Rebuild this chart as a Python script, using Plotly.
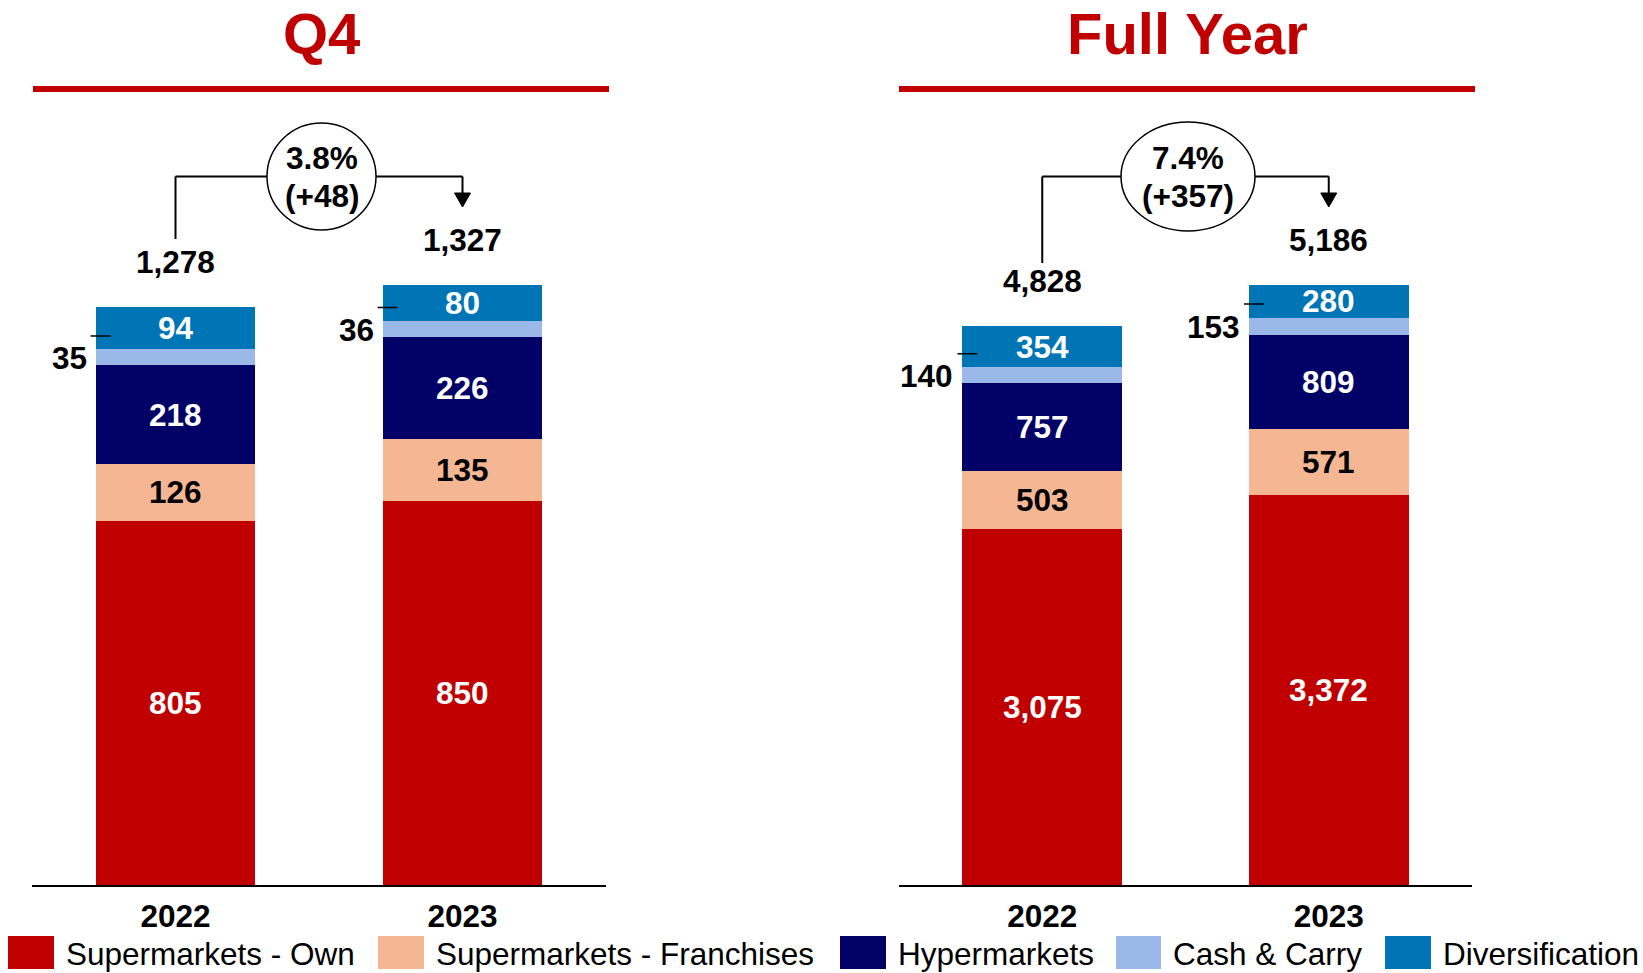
import plotly.graph_objects as go

W, H = 1643, 973

# ---------------- data ----------------
categories = ["2022", "2023"]
series_names = ["Supermarkets - Own", "Supermarkets - Franchises", "Hypermarkets",
                "Cash & Carry", "Diversification"]
series_colors = ["#C00000", "#F5B793", "#000066", "#9AB8E8", "#0075B6"]
label_colors = ["white", "black", "white", None, "white"]

q4_own = [805, 850]
q4_fran = [126, 135]
q4_hyper = [218, 226]
q4_cc = [35, 36]
q4_div = [94, 80]
q4_total = [1278, 1327]
q4_growth = ["3.8%", "(+48)"]

fy_own = [3075, 3372]
fy_fran = [503, 571]
fy_hyper = [757, 809]
fy_cc = [140, 153]
fy_div = [354, 280]
fy_total = [4828, 5186]
fy_growth = ["7.4%", "(+357)"]

panels = [
    dict(title="Q4", series=[q4_own, q4_fran, q4_hyper, q4_cc, q4_div], total=q4_total,
         growth=q4_growth, xa="x", ya="y", xdom=(32, 606), ymax=1735.6,
         circle=(321.5, 176.5, 54.5, 53.5), line=(33, 609), bottom_left=239),
    dict(title="Full Year", series=[fy_own, fy_fran, fy_hyper, fy_cc, fy_div], total=fy_total,
         growth=fy_growth, xa="x2", ya="y2", xdom=(899, 1472), ymax=6785,
         circle=(1188, 176.5, 67, 54.5), line=(899, 1475), bottom_left=263),
]

FONT = "Liberation Sans, Arial, sans-serif"
BAR_W = 0.557
xs = [0, 1]


def px(x):
    return x / W


def py(y):
    return 1 - y / H


fig = go.Figure()
shapes = []
annotations = []

BASE_Y = 885
TOP_Y = 100

for pi, p in enumerate(panels):
    cum = [0, 0]
    for si, (name, col, vals) in enumerate(zip(series_names, series_colors, p["series"])):
        fig.add_trace(go.Bar(
            x=xs, y=vals, name=name, marker=dict(color=col, line=dict(width=0)),
            width=BAR_W, xaxis=p["xa"], yaxis=p["ya"], showlegend=False,
            hoverinfo="skip"))
        for i in range(2):
            mid = cum[i] + vals[i] / 2
            top = cum[i] + vals[i]
            if label_colors[si] is not None:
                annotations.append(dict(
                    x=xs[i], y=mid, xref=p["xa"], yref=p["ya"], text=f"{vals[i]:,}",
                    showarrow=False, xanchor="center", yanchor="middle",
                    font=dict(family=FONT, size=31.5, color=label_colors[si], weight="bold")))
            else:
                # outside label for Cash & Carry with leader line
                annotations.append(dict(
                    x=xs[i] - BAR_W / 2, y=top, xref=p["xa"], yref=p["ya"], text=f"{vals[i]:,}",
                    showarrow=False, xanchor="right", yanchor="middle", xshift=-7, yshift=-9,
                    font=dict(family=FONT, size=31.5, color="black", weight="bold")))
                shapes.append(dict(
                    type="line", xref=p["xa"], yref=p["ya"],
                    xsizemode="pixel", xanchor=xs[i] - BAR_W / 2, x0=-5, x1=15,
                    ysizemode="pixel", yanchor=top, y0=13.5, y1=13.5,
                    line=dict(color="black", width=1.5)))
            cum[i] = top
    # totals
    for i in range(2):
        annotations.append(dict(
            x=xs[i], y=p["total"][i], xref=p["xa"], yref=p["ya"], text=f"{p['total'][i]:,}",
            showarrow=False, xanchor="center", yanchor="middle", yshift=45,
            font=dict(family=FONT, size=31.5, color="black", weight="bold")))
    # title + red rule
    cx = (p["line"][0] + p["line"][1]) / 2
    annotations.append(dict(
        x=px(cx), y=py(34), xref="paper", yref="paper", text=p["title"],
        showarrow=False, xanchor="center", yanchor="middle",
        font=dict(family=FONT, size=58, color="#C00000", weight="bold")))
    shapes.append(dict(type="line", xref="paper", yref="paper",
                       x0=px(p["line"][0]), x1=px(p["line"][1]), y0=py(89), y1=py(89),
                       line=dict(color="#C00000", width=6)))
    # growth bracket
    ccx, ccy, rx, ry = p["circle"]
    shapes.append(dict(type="circle", xref="paper", yref="paper",
                       x0=px(ccx - rx), x1=px(ccx + rx), y0=py(ccy - ry), y1=py(ccy + ry),
                       line=dict(color="black", width=1.5), fillcolor="white"))
    annotations.append(dict(x=px(ccx), y=py(158.5), xref="paper", yref="paper", text=p["growth"][0],
                            showarrow=False, xanchor="center", yanchor="middle",
                            font=dict(family=FONT, size=31.5, color="black", weight="bold")))
    annotations.append(dict(x=px(ccx), y=py(196), xref="paper", yref="paper", text=p["growth"][1],
                            showarrow=False, xanchor="center", yanchor="middle",
                            font=dict(family=FONT, size=31.5, color="black", weight="bold")))
    x0p = p["xdom"][0]
    span = (p["xdom"][1] - p["xdom"][0]) / 2.0  # pixels per category unit
    left_x = x0p + (xs[0] + 0.5) * span
    right_x = x0p + (xs[1] + 0.5) * span
    shapes.append(dict(type="line", xref="paper", yref="paper", x0=px(left_x), x1=px(left_x),
                       y0=py(p["bottom_left"]), y1=py(ccy), line=dict(color="black", width=2)))
    shapes.append(dict(type="line", xref="paper", yref="paper", x0=px(left_x), x1=px(ccx - rx),
                       y0=py(ccy), y1=py(ccy), line=dict(color="black", width=2)))
    shapes.append(dict(type="line", xref="paper", yref="paper", x0=px(ccx + rx), x1=px(right_x),
                       y0=py(ccy), y1=py(ccy), line=dict(color="black", width=2)))
    shapes.append(dict(type="line", xref="paper", yref="paper", x0=px(right_x), x1=px(right_x),
                       y0=py(ccy), y1=py(194), line=dict(color="black", width=2)))
    shapes.append(dict(type="path", xref="paper", yref="paper",
                       path=f"M {px(right_x-8)},{py(193)} L {px(right_x+8)},{py(193)} L {px(right_x)},{py(207)} Z",
                       fillcolor="black", line=dict(color="black", width=1)))

# legend (manual, larger swatches)
legend_rects = [(8, 54), (378, 424), (840, 886), (1116, 1161), (1385, 1431)]
for (l, r), name, col in zip(legend_rects, series_names, series_colors):
    shapes.append(dict(type="rect", xref="paper", yref="paper", x0=px(l), x1=px(r),
                       y0=py(936), y1=py(969), fillcolor=col, line=dict(width=0)))
    annotations.append(dict(x=px(r + 10), y=py(954), xref="paper", yref="paper", text=name,
                            showarrow=False, xanchor="left", yanchor="middle",
                            font=dict(family=FONT, size=31.5, color="black")))

layout_axes = {}
for k, p in enumerate(panels):
    sfx = "" if k == 0 else "2"
    layout_axes["xaxis" + sfx] = dict(
        domain=[px(p["xdom"][0]), px(p["xdom"][1])], range=[-0.5, 1.5],
        tickvals=xs, ticktext=categories, showgrid=False, zeroline=False,
        showline=True, linecolor="black", linewidth=2, ticks="",
        tickfont=dict(family=FONT, size=31.5, color="black", weight="bold"),
        ticklabelstandoff=2, anchor="y" + sfx, fixedrange=True)
    layout_axes["yaxis" + sfx] = dict(
        domain=[py(BASE_Y), py(TOP_Y)], range=[0, p["ymax"]], visible=False,
        anchor="x" + sfx, fixedrange=True)

fig.update_layout(
    width=W, height=H, margin=dict(l=0, r=0, t=0, b=0),
    paper_bgcolor="white", plot_bgcolor="white", barmode="stack", bargap=0,
    showlegend=False, shapes=shapes, annotations=annotations, **layout_axes)

fig.write_html("out.html", config={"displayModeBar": False},
               post_script="document.body.style.margin='0';document.body.style.overflow='hidden';")
